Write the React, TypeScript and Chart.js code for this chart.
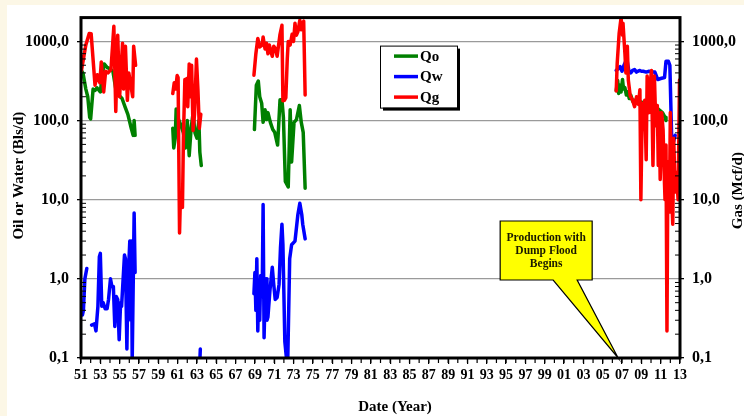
import { useEffect, useRef } from 'react';
import { Chart, registerables } from 'chart.js';

Chart.register(...registerables);

const FONT = "'Liberation Serif', 'Times New Roman', serif";

// ---------- data (year, rate); null breaks a line ----------
const qoYears = [
  1951.0, 1951.2, 1951.5, 1951.7, 1951.9, 1952.0, 1952.25, 1952.45, 1952.65, 1953.0, 1953.2, 1953.4, 1953.7, 1954.0, 1954.3, 1954.6, 1954.9, 1955.25, 1955.55, 1955.85, 1956.2, 1956.4, 1956.5, 1956.6,
  1958.0,
  1960.5, 1960.6, 1960.75, 1960.85, 1961.0, 1961.3, 1961.6, 1961.8, 1962.0, 1962.2, 1962.4, 1962.6, 1962.8, 1963.0, 1963.2, 1963.3, 1963.45,
  1966.0,
  1968.95, 1969.15, 1969.35, 1969.5, 1969.7, 1969.85, 1970.05, 1970.2, 1970.35, 1970.6, 1970.85, 1971.05, 1971.35, 1971.6, 1971.8, 1971.95, 1972.15, 1972.45, 1972.65, 1972.8, 1973.05, 1973.3, 1973.6, 1973.8, 1974.0, 1974.2,
  1990.0,
  2006.4, 2006.55, 2006.65, 2006.8, 2006.9, 2007.05, 2007.15, 2007.3, 2007.45, 2007.6, 2007.75, 2007.9, 2008.1, 2008.3, 2008.55, 2008.8, 2009.1, 2009.4, 2009.7, 2010.0, 2010.3, 2010.6, 2010.9, 2011.2, 2011.45, 2011.55,
];
const qoRates = [
  435, 400, 250, 200, 110, 105, 250, 240, 260, 230, 380, 520, 470, 450, 420, 250, 210, 190, 150, 120, 80, 65, 100, 65,
  null,
  80, 45, 60, 140, 110, 90, 70, 45, 100, 36, 80, 125, 70, 60, 100, 40, 27,
  null,
  77, 280, 316, 200, 166, 95, 137, 103, 126, 95, 77, 71, 49, 183, 183, 110, 17, 14.5, 137, 30, 95, 103, 155, 95, 71, 14,
  null,
  240, 320, 220, 280, 230, 330, 250, 260, 210, 230, 190, 210, 175, 180, 165, 175, 170, 165, 160, 155, 150, 145, 135, 125, 110, 100,
];

const qwYears = [
  1951.0, 1951.15, 1951.25, 1951.4, 1951.6,
  1951.8,
  1952.1, 1952.4, 1952.55, 1952.75, 1952.9, 1953.0, 1953.15, 1953.3, 1953.5, 1953.7, 1953.85, 1954.05, 1954.2, 1954.35, 1954.5, 1954.65, 1954.8, 1954.95, 1955.1, 1955.2, 1955.5, 1955.6, 1955.75, 1955.85, 1956.05, 1956.15, 1956.22, 1956.3, 1956.5, 1956.6,
  1960.0,
  1963.3, 1963.35,
  1966.0,
  1968.9, 1969.0, 1969.1, 1969.2, 1969.3, 1969.4, 1969.5, 1969.6, 1969.75, 1969.85, 1969.95, 1970.05, 1970.15, 1970.25, 1970.35, 1970.55, 1970.8, 1970.95, 1971.1, 1971.3, 1971.5, 1971.65, 1971.8, 1971.9, 1972.1, 1972.3, 1972.4, 1972.6, 1972.8, 1973.15, 1973.45, 1973.65, 1973.85, 1973.95, 1974.2,
  1990.0,
  2006.4, 2006.6, 2006.8, 2007.0, 2007.2, 2007.5, 2007.7, 2007.9, 2008.1, 2008.3, 2008.5, 2008.8, 2009.0, 2009.2, 2009.5, 2009.8, 2010.1, 2010.4, 2010.7, 2011.0, 2011.4, 2011.55, 2011.8, 2011.95, 2012.15, 2012.35, 2012.5,
];
const qwRates = [
  0.5, 0.35, 0.4, 1.0, 1.35,
  null,
  0.26, 0.27, 0.22, 0.45, 1.9, 2.1, 0.45, 0.5, 0.42, 0.42, 0.55, 1.0, 0.8, 0.8, 0.25, 0.6, 0.55, 0.17, 0.5, 0.45, 2.0, 1.8, 0.13, 0.8, 3.0, 0.3, 3.0, 0.09, 6.8, 1.2,
  null,
  0.09, 0.13,
  null,
  0.65, 1.2, 0.4, 1.8, 0.22, 0.85, 0.3, 1.1, 0.6, 8.7, 0.18, 0.6, 1.0, 0.3, 0.33, 0.7, 1.4, 0.85, 0.55, 0.58, 0.85, 2.5, 4.9, 2.7, 0.16, 0.09, 0.09, 1.8, 2.7, 3.0, 6.5, 9, 6.5, 4.9, 3.2,
  null,
  430, 450, 480, 420, 500, 600, 430, 400, 430, 440, 410, 430, 420, 420, 410, 420, 410, 410, 330, 340, 350, 560, 560, 500, 53, 55, 65,
];

const qgYears = [
  1951.0, 1951.05, 1951.5, 1951.85, 1952.05, 1952.45, 1952.7, 1952.95, 1953.1, 1953.35, 1953.55, 1953.8, 1954.1, 1954.4, 1954.6, 1954.8, 1955.0, 1955.3, 1955.4, 1955.6, 1955.8, 1955.95, 1956.35, 1956.45, 1956.65,
  1958.0,
  1960.5, 1960.65, 1960.8, 1960.95, 1961.05, 1961.2, 1961.3, 1961.45, 1961.5, 1961.6, 1961.75, 1961.85, 1961.95, 1962.05, 1962.2, 1962.3, 1962.45, 1962.6, 1962.75, 1962.95, 1963.1, 1963.25, 1963.4,
  1966.0,
  1968.9, 1969.1, 1969.3, 1969.5, 1969.75, 1969.85, 1970.05, 1970.2, 1970.35, 1970.5, 1970.65, 1970.8, 1970.95, 1971.15, 1971.3, 1971.6, 1971.8, 1971.9, 1972.05, 1972.2, 1972.35, 1972.45, 1972.65, 1972.85, 1973.0, 1973.15, 1973.3, 1973.45, 1973.65, 1973.8, 1973.9, 1974.05, 1974.2,
  1990.0,
  2006.4, 2006.5, 2006.7, 2006.9, 2007.05, 2007.1, 2007.3, 2007.4, 2007.55, 2007.65, 2007.85, 2008.1, 2008.3, 2008.5, 2008.7, 2008.85, 2008.95, 2009.1, 2009.25, 2009.35, 2009.5, 2009.6, 2009.8, 2009.95, 2010.05, 2010.2, 2010.35, 2010.5, 2010.65, 2010.75, 2010.85, 2010.95, 2011.1, 2011.25, 2011.35, 2011.45, 2011.55, 2011.65, 2011.75, 2011.9, 2012.0, 2012.1, 2012.25, 2012.35, 2012.5, 2012.65, 2012.8, 2012.95,
];
const qgRates = [
  650, 430, 900, 1260, 1250, 280, 380, 300, 550, 230, 420, 400, 440, 1550, 130, 1200, 200, 950, 250, 870, 180, 400, 200, 870, 500,
  null,
  220, 300, 250, 370, 350, 3.8, 12, 9, 8, 60, 330, 200, 340, 150, 520, 200, 500, 75, 120, 600, 250, 80, 120,
  null,
  375, 700, 1090, 850, 900, 1140, 800, 950, 700, 900, 750, 650, 870, 800, 650, 1230, 1600, 178, 180, 195, 600, 1000, 900, 1230, 1000, 1700, 1200, 1330, 1850, 1400, 1700, 1800, 210,
  null,
  237, 530, 1260, 2000, 1200, 1700, 700, 400, 870, 325, 205, 180, 150, 200, 160, 245, 10, 166, 77, 180, 32, 365, 126, 325, 430, 27, 365, 86, 155, 27, 126, 18, 126, 77, 24, 10, 49, 0.22, 30, 7, 126, 15, 4.9, 60, 12.5, 22, 10, 325,
];

const seriesLabels = ['Qo', 'Qw', 'Qg'];
const seriesColors = ['#008000', '#0000ff', '#ff0000'];
const yTickValues = [0.1, 1, 10, 100, 1000];
const yMin = 0.1;
const yMax = 2000;
const xMin = 1951;
const xMax = 2013;
const calloutLines = ['Production with', 'Dump Flood', 'Begins'];
const calloutYear = 2006.6;
const leftTitle = 'Oil or Water (Bls/d)';
const rightTitle = 'Gas (Mcf/d)';
const bottomTitle = 'Date (Year)';

const toPoints = (xs: number[], ys: (number | null)[]) => xs.map((x, i) => ({ x, y: ys[i] }));

const fmtY = (v: any) => Number(v).toFixed(1).replace('.', ',');
const fmtX = (v: any) => String(Math.round(Number(v)) % 100).padStart(2, '0');

const decor = {
  id: 'decor',
  beforeDraw(chart: any) {
    const { ctx, width, height } = chart;
    ctx.save();
    ctx.fillStyle = '#fcf7e6';
    ctx.fillRect(0, 0, width, height);
    ctx.fillStyle = '#ffffff';
    ctx.fillRect(7, 5, width - 7, height - 5);
    ctx.restore();
  },
  afterDatasetsDraw(chart: any) {
    const { ctx, chartArea: ca, scales } = chart;
    const xs = scales.x;
    const ys = scales.y;
    const line = (x1: number, y1: number, x2: number, y2: number) => {
      ctx.beginPath();
      ctx.moveTo(x1, y1);
      ctx.lineTo(x2, y2);
      ctx.stroke();
    };
    ctx.save();
    // frame
    ctx.strokeStyle = '#000';
    ctx.lineWidth = 3;
    ctx.strokeRect(ca.left, ca.top, ca.right - ca.left, ca.bottom - ca.top);
    // minor ticks
    ctx.lineWidth = 1;
    for (let e = -1; e <= 3; e++) {
      for (let k = 2; k <= 9; k++) {
        const v = k * Math.pow(10, e);
        if (v > yMax) break;
        const py = ys.getPixelForValue(v);
        line(ca.left, py, ca.left + 5, py);
        line(ca.right - 5, py, ca.right, py);
      }
    }
    ctx.lineWidth = 1.2;
    for (let yr = xMin; yr <= xMax; yr++) {
      const px = xs.getPixelForValue(yr);
      line(px, ca.bottom, px, ca.bottom + 5);
    }

    // legend
    const lx = ca.left + 299;
    const ly = ca.top + 28;
    const lw = 77;
    const lh = 62;
    ctx.fillStyle = '#000';
    ctx.fillRect(lx + 3, ly + 3, lw, lh);
    ctx.fillStyle = '#fff';
    ctx.fillRect(lx, ly, lw, lh);
    ctx.strokeStyle = '#000';
    ctx.lineWidth = 1;
    ctx.strokeRect(lx + 0.5, ly + 0.5, lw, lh);
    ctx.font = `bold 15px ${FONT}`;
    ctx.textBaseline = 'middle';
    ctx.textAlign = 'left';
    chart.data.datasets.forEach((ds: any, i: number) => {
      const ry = ly + 10.5 + i * 20.5;
      ctx.strokeStyle = ds.borderColor;
      ctx.lineWidth = 3.5;
      line(lx + 14, ry, lx + 38, ry);
      ctx.fillStyle = '#000';
      ctx.fillText(ds.label, lx + 40, ry + 1);
    });

    // callout
    const tipX = xs.getPixelForValue(calloutYear);
    const tipY = ys.getPixelForValue(yMin);
    const bl = tipX - 118;
    const br = tipX - 26;
    const bt = tipY - 137;
    const bb = tipY - 78;
    ctx.beginPath();
    ctx.moveTo(bl, bt);
    ctx.lineTo(br, bt);
    ctx.lineTo(br, bb);
    ctx.lineTo(tipX - 41, bb);
    ctx.lineTo(tipX, tipY);
    ctx.lineTo(tipX - 65, bb);
    ctx.lineTo(bl, bb);
    ctx.closePath();
    ctx.fillStyle = '#ffff00';
    ctx.fill();
    ctx.strokeStyle = '#000';
    ctx.lineWidth = 1.2;
    ctx.stroke();
    ctx.fillStyle = '#1a1a00';
    ctx.font = `bold 11.5px ${FONT}`;
    ctx.textAlign = 'center';
    calloutLines.forEach((t, i) => {
      ctx.fillText(t, (bl + br) / 2, bt + 17 + i * 13);
    });
    ctx.restore();
  },
  afterDraw(chart: any) {
    const { ctx, chartArea: ca } = chart;
    ctx.save();
    ctx.fillStyle = '#000';
    ctx.font = `bold 15px ${FONT}`;
    ctx.textAlign = 'center';
    ctx.textBaseline = 'middle';
    ctx.fillText(bottomTitle, ca.left + 314, ca.bottom + 49);
    ctx.save();
    ctx.translate(19, ca.top + 158);
    ctx.rotate(-Math.PI / 2);
    ctx.fillText(leftTitle, 0, 0);
    ctx.restore();
    ctx.save();
    ctx.translate(ca.right + 58, ca.top + 173);
    ctx.rotate(-Math.PI / 2);
    ctx.fillText(rightTitle, 0, 0);
    ctx.restore();
    ctx.restore();
  },
};

const yAxisBase = (position: 'left' | 'right', width: number, onArea: boolean) => ({
  type: 'logarithmic' as const,
  position,
  min: yMin,
  max: yMax,
  afterBuildTicks: (s: any) => {
    s.ticks = yTickValues.map((value) => ({ value }));
  },
  afterFit: (s: any) => {
    s.width = width;
  },
  ticks: {
    callback: fmtY,
    color: '#000',
    font: { family: FONT, size: 16, weight: 'bold' as const },
    padding: 8,
    autoSkip: false,
  },
  grid: {
    display: true,
    drawOnChartArea: onArea,
    color: '#9a9a9a',
    lineWidth: 1.3,
    tickColor: '#000',
    tickLength: 4,
  },
  border: { display: false },
});

export default function App() {
  const ref = useRef<HTMLCanvasElement | null>(null);
  useEffect(() => {
    if (!ref.current) return;
    const chart = new Chart(ref.current, {
      type: 'line',
      data: {
        datasets: [
          { label: seriesLabels[0], data: toPoints(qoYears, qoRates) as any, borderColor: seriesColors[0], backgroundColor: seriesColors[0], order: 2 },
          { label: seriesLabels[1], data: toPoints(qwYears, qwRates) as any, borderColor: seriesColors[1], backgroundColor: seriesColors[1], order: 1 },
          { label: seriesLabels[2], data: toPoints(qgYears, qgRates) as any, borderColor: seriesColors[2], backgroundColor: seriesColors[2], order: 0 },
        ],
      },
      options: {
        animation: false,
        responsive: false,
        devicePixelRatio: 1,
        spanGaps: false,
        elements: {
          point: { radius: 0, hoverRadius: 0 },
          line: { borderWidth: 3.5, tension: 0, borderJoinStyle: 'round', borderCapStyle: 'round' },
        },
        layout: { padding: { top: 14, left: 0, right: 0, bottom: 0 } },
        plugins: { legend: { display: false }, tooltip: { enabled: false } },
        scales: {
          x: {
            type: 'linear',
            position: 'bottom',
            min: xMin,
            max: xMax,
            afterFit: (s: any) => {
              s.height = 58;
            },
            ticks: {
              stepSize: 2,
              autoSkip: false,
              maxRotation: 0,
              callback: fmtX,
              color: '#000',
              font: { family: FONT, size: 14, weight: 'bold' },
              padding: 3,
            },
            grid: { display: true, drawOnChartArea: false, tickColor: '#000', tickLength: 6, lineWidth: 1.2 },
            border: { display: false },
          },
          y: yAxisBase('left', 81, true) as any,
          y2: yAxisBase('right', 64, false) as any,
        },
      },
      plugins: [decor],
    });
    return () => chart.destroy();
  }, []);
  return (
    <div style={{ position: 'fixed', left: 0, top: 0, width: 744, height: 416 }}>
      <canvas ref={ref} width={744} height={416} style={{ display: 'block', width: 744, height: 416 }} />
    </div>
  );
}
